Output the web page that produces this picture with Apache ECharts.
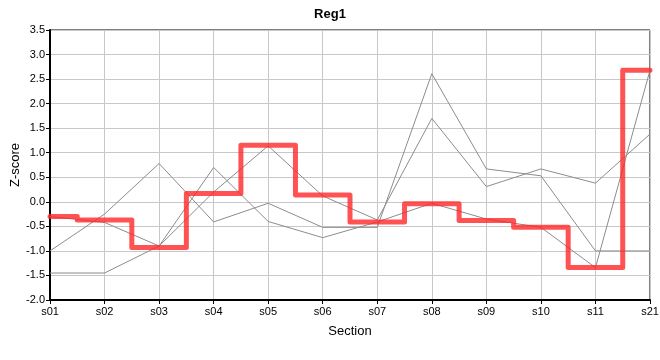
<!DOCTYPE html>
<html>
<head>
<meta charset="utf-8">
<script src="https://cdn.jsdelivr.net/npm/echarts@6/dist/echarts.min.js"></script>
<style>html,body{margin:0;padding:0;background:#fff}#c{width:660px;height:360px}</style>
</head>
<body>
<div id="c"></div>
<script>
var categories = ['s01','s02','s03','s04','s05','s06','s07','s08','s09','s10','s11','s21'];
var reg1 = [-0.30, -0.37, -0.93, 0.17, 1.15, 0.14, -0.41, -0.04, -0.38, -0.52, -1.34, 2.68];
var other1 = [-1.00, -0.25, 0.78, -0.41, -0.03, -0.52, -0.52, 2.61, 0.67, 0.53, -1.00, -1.00];
var other2 = [-0.30, -0.42, -0.90, 0.70, -0.40, -0.73, -0.41, -0.03, -0.35, -0.52, -1.34, 2.68];
var other3 = [-1.45, -1.45, -0.90, 0.20, 1.14, 0.12, -0.37, 1.70, 0.31, 0.67, 0.38, 1.38];
var yMin = -2.0, yMax = 3.5, yStep = 0.5;

var font = 'Liberation Sans';
function grayLine(d){
  return {type:'line', data:d, showSymbol:false, silent:true,
    lineStyle:{color:'#8c8c8c', width:1}, z:2};
}
var chart = echarts.init(document.getElementById('c'));
chart.setOption({
  animation:false,
  title:{text:'Reg1', left:'center', top:3,
    textStyle:{fontFamily:font, fontSize:13, fontWeight:'bold', color:'#000'}},
  grid:{left:50, right:10, top:30, bottom:60, show:true, borderColor:'#000', borderWidth:1,
    containLabel:false, outerBoundsMode:'none'},
  xAxis:{type:'category', data:categories, boundaryGap:false,
    name:'Section', nameLocation:'middle', nameGap:25,
    nameTextStyle:{fontFamily:font, fontSize:13, color:'#000'},
    axisLine:{onZero:false, lineStyle:{color:'#000', width:2}},
    axisTick:{show:true, alignWithLabel:true, length:4, lineStyle:{color:'#000'}},
    axisLabel:{fontFamily:font, fontSize:11, color:'#000', margin:6},
    splitLine:{show:true, lineStyle:{color:'#c8c8c8', width:1}}},
  yAxis:{type:'value', min:yMin, max:yMax, interval:yStep,
    name:'Z-score', nameLocation:'middle', nameGap:28, nameMoveOverlap:false,
    nameTextStyle:{fontFamily:font, fontSize:13, color:'#000'},
    axisLine:{show:true, onZero:false, lineStyle:{color:'#000', width:2}},
    axisTick:{show:true, length:4, lineStyle:{color:'#000'}},
    axisLabel:{fontFamily:font, fontSize:11, color:'#000', margin:5,
      formatter:function(v){return v.toFixed(1);}},
    splitLine:{show:true, lineStyle:{color:'#c8c8c8', width:1}}},
  series:[
    grayLine(other1), grayLine(other2), grayLine(other3),
    {type:'line', data:reg1, step:'middle', showSymbol:false, silent:true,
      lineStyle:{color:'rgba(255,40,40,0.8)', width:5, join:'round', cap:'round'}, z:5}
  ]
});
</script>
</body>
</html>
